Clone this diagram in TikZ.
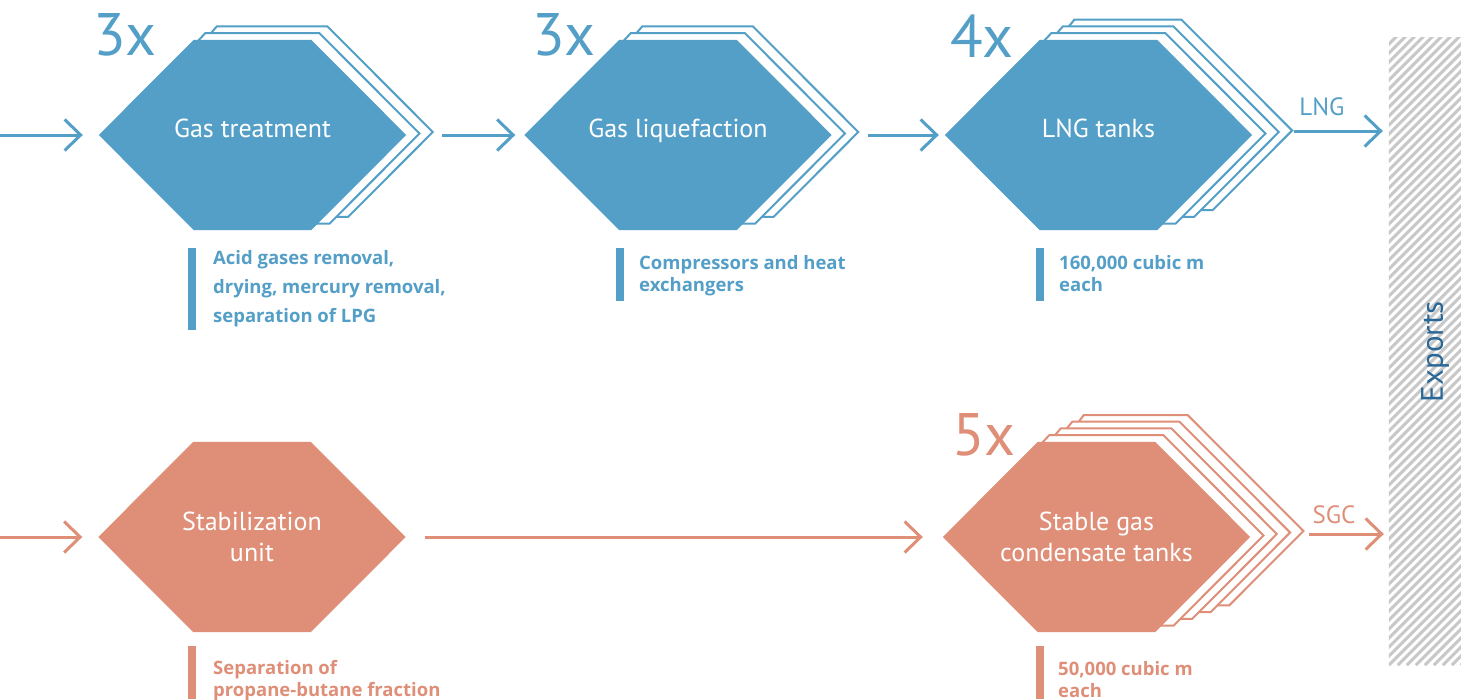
\documentclass[tikz,border=0pt]{standalone}
\usepackage{fontspec}
\setmainfont{PT Sans}
\newfontfamily\notefont{Open Sans}
\usetikzlibrary{arrows.meta, calc, positioning, backgrounds}
\definecolor{gasblue}{HTML}{549FC7}
\definecolor{condred}{HTML}{DF8F78}
\definecolor{hatchgray}{HTML}{C8C8C8}
\definecolor{exportblue}{HTML}{2A6796}

\begin{document}
\begin{tikzpicture}[
  x=1pt, y=-1pt,
  hexa/.style     = {minimum width=307pt, minimum height=190pt, inner sep=0pt, text=white, align=center, font=\fontsize{26}{31.5}\selectfont},
  oneline/.style  = {text height=4pt, text depth=0pt},
  copyline/.style = {draw=#1, fill=white, line width=2pt, line join=miter},
  arr/.style      = {-{Straight Barb[length=16pt,width=31pt]}, line width=3pt, draw=#1},
  mult/.style     = {anchor=base west, inner sep=0pt, text=#1, font=\fontsize{60}{60}\selectfont},
  flow/.style     = {anchor=base, inner sep=0pt, text=#1, font=\fontsize{25}{25}\selectfont},
  cap/.style      = {anchor=base west, inner sep=0pt, align=left, text=#1, font=\notefont\bfseries\fontsize{18.5}{22}\selectfont},
  exports/.style  = {minimum width=92pt, minimum height=627pt, inner sep=0pt, text=exportblue, font=\fontsize{31}{31}\selectfont},
  hatch/.style    = {draw=hatchgray, line width=3pt},
]
\useasboundingbox (0,0) rectangle (1461,699);

% process steps
\node[hexa, oneline] (gt)  at (252.5,135)  {Gas treatment};
\node[hexa, oneline] (gl)  at (678,135)    {Gas liquefaction};
\node[hexa, oneline] (lng) at (1098.5,135) {LNG tanks};
\node[hexa] (stab) at (252,537)    {Stabilization\\unit};
\node[hexa] (sgc)  at (1096.5,537) {Stable gas\\condensate tanks};
\node[exports] (exp) at (1435,351.5) {\rotatebox{90}{Exports}};

% counts
\node[mult=gasblue] (m1) at (93,55)  {3x};
\node[mult=gasblue] (m2) at (532,55) {3x};
\node[mult=gasblue] (m3) at (950,57) {4x};
\node[mult=condred] (m4) at (952,455) {5x};

% notes (anchored on the last line)
\node[cap=gasblue, font=\notefont\bfseries\fontsize{18.5}{29}\selectfont] (c1) at (213,322) {Acid gases removal,\\drying, mercury removal,\\separation of LPG};
\node[cap=gasblue] (c2) at (639,291)  {Compressors and heat\\exchangers};
\node[cap=gasblue] (c3) at (1059,291) {160,000 cubic m\\each};
\node[cap=condred] (c4) at (213,696)  {Separation of\\propane-butane fraction};
\node[cap=condred] (c5) at (1058,697) {50,000 cubic m\\each};
\fill[gasblue] (188,248) rectangle (196,330);
\fill[gasblue] (616,248) rectangle (624,301);
\fill[gasblue] (1036,248) rectangle (1044,301);
\fill[condred] (188,646) rectangle (196,699);
\fill[condred] (1036,646) rectangle (1044,699);

% flows
\coordinate (in1) at (0,135);
\coordinate (in2) at (0,537);
\node[flow=gasblue] (lnglbl) at (1322,115) {LNG};
\node[flow=condred] (sgclbl) at (1334,523) {SGC};
\draw[arr=gasblue, shorten >=16pt] (in1) -- (gt.west);
\draw[arr=gasblue, shorten <=36pt, shorten >=9pt] (gt.east) -- (gl.west);
\draw[arr=gasblue, shorten <=36pt, shorten >=6pt] (gl.east) -- (lng.west);
\draw[arr=gasblue, shorten <=42pt, shorten >=6pt] ([yshift=4pt]lng.east) -- ([yshift=4pt]lng.east -| exp.west);
\draw[arr=condred, shorten >=16pt] (in2) -- (stab.west);
\draw[arr=condred, shorten <=19pt, shorten >=20pt] (stab.east) -- (sgc.west);
\draw[arr=condred, shorten <=59pt, shorten >=5pt] ([yshift=3pt]sgc.east) -- ([yshift=3pt]sgc.east -| exp.west);

\begin{pgfonlayer}{background}
  \fill[white] (0,0) rectangle (1461,699);
  % stacked copies
  \foreach \h/\n/\c in {gt/2/gasblue, gl/2/gasblue, lng/3/gasblue, sgc/4/condred}
    \foreach \k in {\n,...,1}
      \draw[copyline=\c] ($(\h.west)+(13.3*\k,-1.5*\k)$) -- ($(\h.north west)+(95+11.5*\k,-6.7*\k)$)
        -- ($(\h.north east)+(-95+8.1*\k,-6.7*\k)$) -- ($(\h.east)+(13.3*\k,-1.5*\k)$)
        -- ($(\h.south east)+(-95+18.5*\k,-6.7*\k)$) -- ($(\h.south west)+(95+8.1*\k,-6.7*\k)$) -- cycle;
  \foreach \h/\c in {gt/gasblue, gl/gasblue, lng/gasblue, stab/condred, sgc/condred}
    \fill[\c] (\h.west) -- ([xshift=95pt]\h.north west) -- ([xshift=-95pt]\h.north east)
      -- (\h.east) -- ([xshift=-95pt]\h.south east) -- ([xshift=95pt]\h.south west) -- cycle;
  % hatching
  \begin{scope}
    \clip (exp.south west) rectangle (exp.north east);
    \foreach \i in {-72,...,12}
      \draw[hatch] ($(exp.south west)+(9*\i,0)$) -- ++(720,-720);
  \end{scope}
\end{pgfonlayer}
\end{tikzpicture}
\end{document}
